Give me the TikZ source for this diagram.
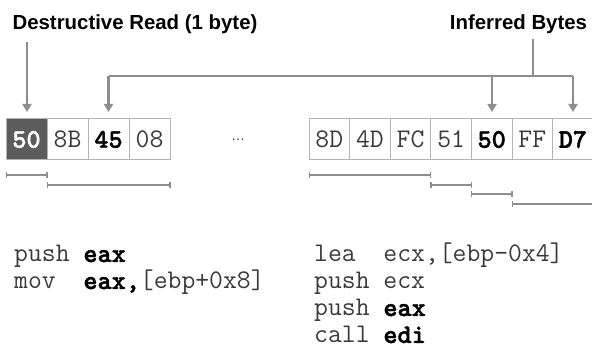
\documentclass[tikz,border=0pt]{standalone}
\usepackage{fontspec}
\setmainfont{Liberation Sans}
\newfontfamily\monobf[FakeBold=1.6]{lmmonolt10-bold.otf}
\usetikzlibrary{arrows.meta}
\definecolor{lgray}{HTML}{8E8E8E}
\definecolor{cellb}{HTML}{B4B4B4}
\definecolor{darkc}{HTML}{5C5C5C}
\definecolor{txtg}{HTML}{3A3A3A}
\newcommand\monosz{\ttfamily\fontsize{26.9}{30}\selectfont}
\newcommand\monobsz{\monobf\fontsize{26.9}{30}\selectfont}
\newcommand\bx[1]{{\monobsz\color{black}#1}}
\tikzset{
  conn/.style={draw=lgray, line width=2.2pt},
  arr/.style={conn, -{Triangle[width=9pt,length=8pt]}},
  span/.style={draw=lgray, line width=1.4pt},
  cell/.style={draw=cellb, line width=1pt, minimum height=41pt, inner sep=0pt, font=\monosz, text=txtg},
  lcell/.style={cell, minimum width=41pt},
  rcell/.style={cell, minimum width=40.6pt},
  dark/.style={fill=darkc, text=white, font=\monobsz},
  bold/.style={text=black, font=\monobsz},
  title/.style={font=\bfseries\fontsize{20.4}{24}\selectfont, inner sep=0pt, anchor=base},
  code/.style={font=\monosz, text=txtg, inner sep=0pt, anchor=base west}
}
\begin{document}
\begin{tikzpicture}[x=1pt,y=-1pt]
\useasboundingbox (0,0) rectangle (592,355);
% titles
\node[title] (dr) at (135,30) {Destructive Read (1 byte)};
\node[title] (ib) at (518.5,30) {Inferred Bytes};
% left cells
\node[lcell,dark] (c1) at (26.5,139.5) {50};
\node[lcell] (c2) at (67.5,139.5) {8B};
\node[lcell,bold] (c3) at (108.5,139.5) {45};
\node[lcell] (c4) at (149.5,139.5) {08};
\node[font=\fontsize{14}{16}\selectfont, text=txtg] (dots) at (238,140) {…};
% right cells
\node[rcell] (r1) at (329.3,139.5) {8D};
\node[rcell] (r2) at (369.9,139.5) {4D};
\node[rcell] (r3) at (410.5,139.5) {FC};
\node[rcell] (r4) at (451.1,139.5) {51};
\node[rcell,bold] (r5) at (491.7,139.5) {50};
\node[rcell] (r6) at (532.3,139.5) {FF};
\node[rcell,bold] (r7) at (572.9,139.5) {D7};
% arrows
\coordinate (a1) at (27,42);
\draw[arr] (a1) -- (27,112);
\coordinate (stemtop) at (533,39);
\coordinate (hub) at (533,76);
\coordinate (hl) at (108.5,76);
\coordinate (hr) at (573,76);
\draw[conn] (stemtop) -- (hub);
\draw[conn] (hl) -- (hr);
\draw[arr] (hl) -- (108.5,112);
\draw[arr] (492,76) -- (492,112);
\draw[arr] (hr) -- (573,112);
% spans
\draw[span, {Bar[width=6pt]}-{Bar[width=6pt]}] (c1.west |- 0,175) -- (c1.east |- 0,175);
\draw[span, {Bar[width=6pt]}-{Bar[width=6pt]}] (c2.west |- 0,185) -- (c4.east |- 0,185);
\draw[span, {Bar[width=6pt]}-{Bar[width=6pt]}] (r1.west |- 0,175) -- (r3.east |- 0,175);
\draw[span, {Bar[width=6pt]}-{Bar[width=6pt]}] (r4.west |- 0,185) -- (r4.east |- 0,185);
\draw[span, {Bar[width=6pt]}-{Bar[width=6pt]}] (r5.west |- 0,194) -- (r5.east |- 0,194);
\draw[span, {Bar[width=6pt]}-] (r6.west |- 0,204) -- (600,204);
% code
\node[code] (l1) at (14,262) {push \bx{eax}};
\node[code] (l2) at (14,289) {mov~~\bx{eax,}[ebp+0x8]};
\node[code] (m1) at (314,262) {lea~~ecx,[ebp-0x4]};
\node[code] (m2) at (314,289) {push ecx};
\node[code] (m3) at (314,316) {push \bx{eax}};
\node[code] (m4) at (314,343) {call \bx{edi}};
\end{tikzpicture}
\end{document}
